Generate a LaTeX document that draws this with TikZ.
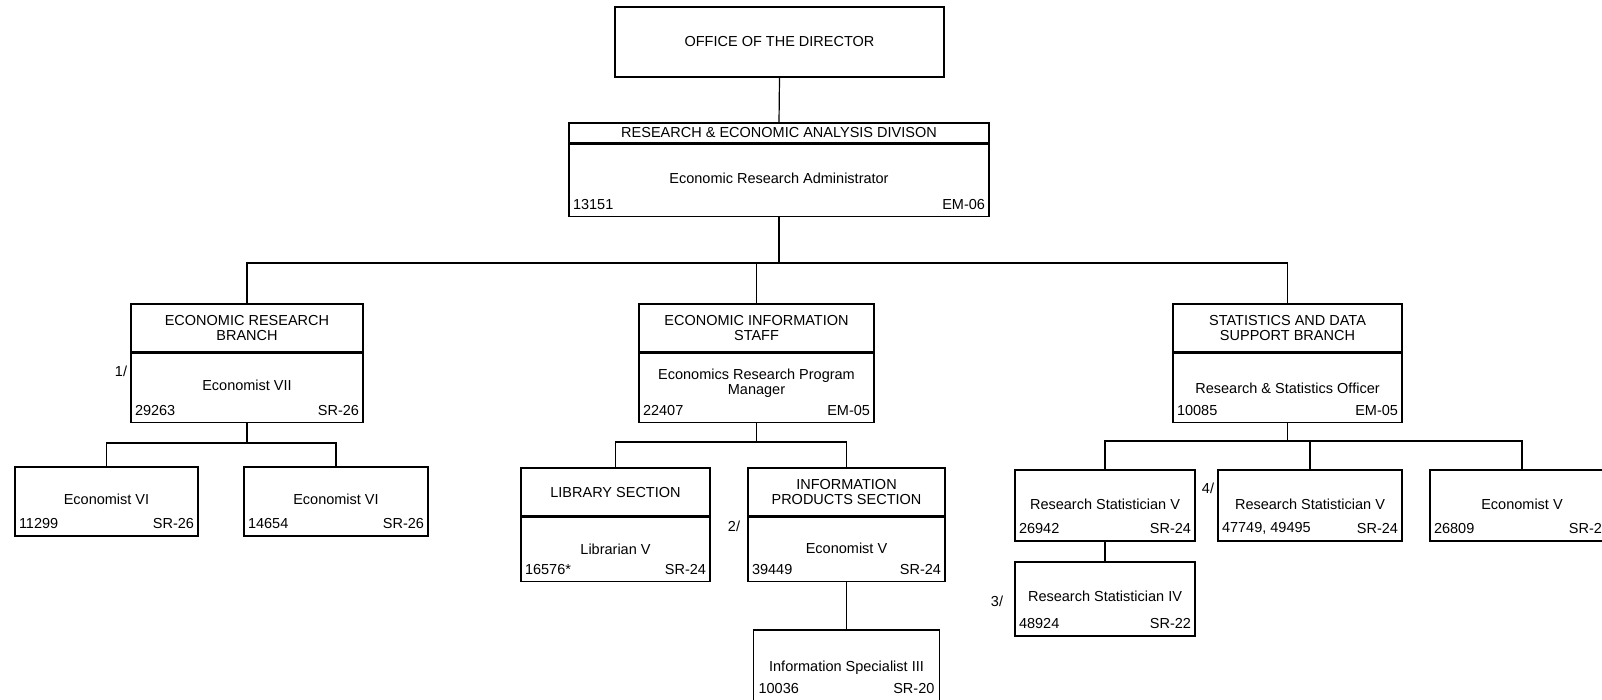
\documentclass[tikz,border=0pt]{standalone}
\usepackage{fontspec}
\setmainfont{Liberation Sans}
\usepackage{tikz}

\tikzset{
  unit/.style={draw, inner sep=0pt},
  num/.style={inner xsep=4pt, inner ysep=7pt},
  note/.style={inner sep=0pt},
}

\begin{document}
\begin{tikzpicture}[x=1pt, y=-1pt, line width=1.2pt, font=\fontsize{14.5}{15}\selectfont]
\useasboundingbox (0,0) rectangle (1602,699);
\clip (0,0) rectangle (1602,699);

\node[unit, minimum width=329pt, minimum height=70pt] (dir) at (779.5,42) {OFFICE OF THE DIRECTOR};

\node[unit, minimum width=420pt, minimum height=20pt] (divh) at (779,133) {RESEARCH \& ECONOMIC ANALYSIS DIVISON};
\node[unit, minimum width=420pt, minimum height=72pt, anchor=north] (divb) at (divh.south) {};
\node (divt) at (779,178) {Economic Research Administrator};
\node[num, anchor=south west] (divn) at (divb.south west) {13151};
\node[num, anchor=south east] (divg) at (divb.south east) {EM-06};

\node[unit, align=center, minimum width=232pt, minimum height=48pt] (erh) at (247,328) {ECONOMIC RESEARCH\\BRANCH};
\node[unit, minimum width=232pt, minimum height=69pt, anchor=north] (erb) at (erh.south) {};
\node (ert) at (247,385) {Economist VII};
\node[num, anchor=south west] (ern) at (erb.south west) {29263};
\node[num, anchor=south east] (erg) at (erb.south east) {SR-26};

\node[unit, align=center, minimum width=235pt, minimum height=48pt] (eish) at (756.5,328) {ECONOMIC INFORMATION\\STAFF};
\node[unit, minimum width=235pt, minimum height=69pt, anchor=north] (eisb) at (eish.south) {};
\node[align=center] (eist) at (756.5,383) {Economics Research Program\\Manager};
\node[num, anchor=south west] (eisn) at (eisb.south west) {22407};
\node[num, anchor=south east] (eisg) at (eisb.south east) {EM-05};

\node[unit, align=center, minimum width=229pt, minimum height=48pt] (sth) at (1287.5,328) {STATISTICS AND DATA\\SUPPORT BRANCH};
\node[unit, minimum width=229pt, minimum height=69pt, anchor=north] (stb) at (sth.south) {};
\node (stt) at (1287.5,388) {Research \& Statistics Officer};
\node[num, anchor=south west] (stn) at (stb.south west) {10085};
\node[num, anchor=south east] (stg) at (stb.south east) {EM-05};

\node[unit, minimum width=183pt, minimum height=69pt] (ev1) at (106.5,501.5) {};
\node (ev1t) at (106.5,499) {Economist VI};
\node[num, anchor=south west] (ev1n) at (ev1.south west) {11299};
\node[num, anchor=south east] (ev1g) at (ev1.south east) {SR-26};

\node[unit, minimum width=184pt, minimum height=69pt] (ev2) at (336,501.5) {};
\node (ev2t) at (336,499) {Economist VI};
\node[num, anchor=south west] (ev2n) at (ev2.south west) {14654};
\node[num, anchor=south east] (ev2g) at (ev2.south east) {SR-26};

\node[unit, minimum width=189pt, minimum height=48pt] (libh) at (615.5,492) {LIBRARY SECTION};
\node[unit, minimum width=189pt, minimum height=64pt, anchor=north] (libb) at (libh.south) {};
\node (libt) at (615.5,549) {Librarian V};
\node[num, anchor=south west] (libn) at (libb.south west) {16576*};
\node[num, anchor=south east] (libg) at (libb.south east) {SR-24};

\node[unit, align=center, minimum width=197pt, minimum height=48pt] (ipsh) at (846.5,492) {INFORMATION\\PRODUCTS SECTION};
\node[unit, minimum width=197pt, minimum height=64pt, anchor=north] (ipsb) at (ipsh.south) {};
\node (ipst) at (846.5,548) {Economist V};
\node[num, anchor=south west] (ipsn) at (ipsb.south west) {39449};
\node[num, anchor=south east] (ipsg) at (ipsb.south east) {SR-24};

\node[unit, minimum width=186pt, minimum height=78pt] (isp) at (846.5,669) {};
\node (ispt) at (846.5,668) {Information Specialist III};
\node[num, anchor=base west, inner ysep=0pt] (ispn) at (754,693) {10036};
\node[num, anchor=base east, inner ysep=0pt] (ispg) at (939,693) {SR-20};

\node[unit, minimum width=180pt, minimum height=71pt] (rs1) at (1105,505.5) {};
\node (rs1t) at (1105,504) {Research Statistician V};
\node[num, anchor=south west] (rs1n) at (rs1.south west) {26942};
\node[num, anchor=south east] (rs1g) at (rs1.south east) {SR-24};

\node[unit, minimum width=184pt, minimum height=71pt] (rs2) at (1310,505.5) {};
\node (rs2t) at (1310,504) {Research Statistician V};
\node[num, anchor=south west] (rs2n) at (rs2.south west) {47749, 49495};
\node[num, anchor=south east] (rs2g) at (rs2.south east) {SR-24};

\node[unit, minimum width=184pt, minimum height=71pt] (ecv) at (1522,505.5) {};
\node (ecvt) at (1522,504) {Economist V};
\node[num, anchor=south west] (ecvn) at (ecv.south west) {26809};
\node[num, anchor=south east] (ecvg) at (ecv.south east) {SR-24};

\node[unit, minimum width=180pt, minimum height=74pt] (rs3) at (1105,599) {};
\node (rs3t) at (1105,596) {Research Statistician IV};
\node[num, anchor=south west] (rs3n) at (rs3.south west) {48924};
\node[num, anchor=south east] (rs3g) at (rs3.south east) {SR-22};

\node[note] (n1) at (121,371) {1/};
\node[note] (n2) at (734,526) {2/};
\node[note] (n3) at (997,601) {3/};
\node[note] (n4) at (1208,488) {4/};

\draw (dir.south) -- (divh.north);
\coordinate (bus) at (779,263);
\draw (divb.south) -- (bus);
\draw (erh.north) -- (erh.north |- bus) -- (sth.north |- bus) -- (sth.north);
\draw (eish.north) -- (eish.north |- bus);

\coordinate (erbus) at (247,443);
\draw (erb.south) -- (erbus);
\draw (ev1.north) -- (ev1.north |- erbus) -- (ev2.north |- erbus) -- (ev2.north);

\coordinate (eisbus) at (756.5,442);
\draw (eisb.south) -- (eisbus);
\draw (libh.north) -- (libh.north |- eisbus) -- (ipsh.north |- eisbus) -- (ipsh.north);
\draw (ipsb.south) -- (isp.north);

\coordinate (stbus) at (1287.5,441);
\draw (stb.south) -- (stbus);
\draw (rs1.north) -- (rs1.north |- stbus) -- (ecv.north |- stbus) -- (ecv.north);
\draw (rs2.north) -- (rs2.north |- stbus);
\draw (rs1.south) -- (rs3.north);
\end{tikzpicture}
\end{document}
